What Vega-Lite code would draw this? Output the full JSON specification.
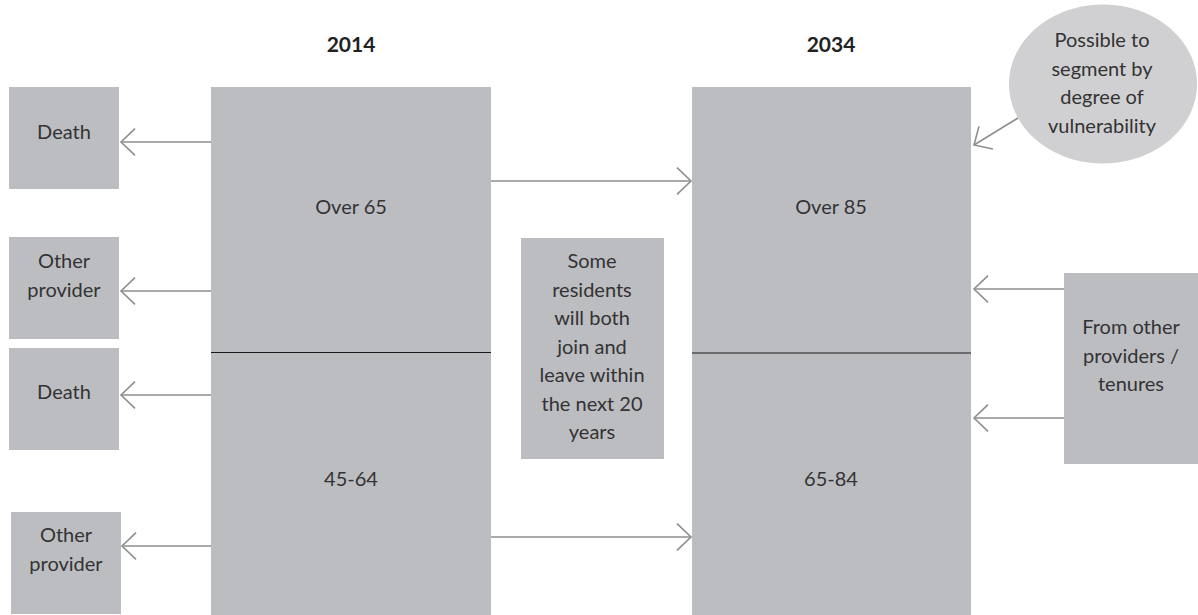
{
  "$schema": "https://vega.github.io/schema/vega-lite/v6.json",
  "width": 1198,
  "height": 615,
  "padding": 0,
  "autosize": {"type": "fit", "contains": "padding"},
  "background": "white",
  "view": {"stroke": null},
  "config": {"text": {"font": "Lato", "fontSize": 20, "color": "#333333", "lineBreak": "\n", "lineHeight": 28.5}},
  "datasets": {
    "boxes": [
      {"name": "Death 1", "x": 9, "x2": 119, "y": 87, "y2": 189},
      {"name": "Other provider 1", "x": 9, "x2": 119, "y": 237, "y2": 339},
      {"name": "Death 2", "x": 9, "x2": 119, "y": 348, "y2": 450},
      {"name": "Other provider 2", "x": 11, "x2": 121, "y": 512, "y2": 614},
      {"name": "2014", "x": 211, "x2": 491, "y": 87, "y2": 615},
      {"name": "2034", "x": 692, "x2": 971, "y": 87, "y2": 615},
      {"name": "Middle", "x": 521, "x2": 664, "y": 238, "y2": 459},
      {"name": "From other", "x": 1064, "x2": 1198, "y": 273, "y2": 464}
    ],
    "dividers": [
      {"x": 211, "x2": 491, "y": 352.5, "y2": 352.5},
      {"x": 692, "x2": 971, "y": 353, "y2": 353}
    ],
    "bubble": [{"x": 1103, "y": 84}],
    "arrows": [
      {"x": 211, "y": 142, "x2": 121, "y2": 142},
      {"x": 211, "y": 291, "x2": 121, "y2": 291},
      {"x": 211, "y": 395, "x2": 121, "y2": 395},
      {"x": 211, "y": 546, "x2": 122, "y2": 546},
      {"x": 491, "y": 181, "x2": 691, "y2": 181},
      {"x": 491, "y": 537, "x2": 691, "y2": 537},
      {"x": 1064, "y": 289, "x2": 974, "y2": 289},
      {"x": 1064, "y": 418, "x2": 974, "y2": 418},
      {"x": 1018, "y": 118, "x2": 974, "y2": 145}
    ],
    "labels": [
      {"label": "Death", "x": 64, "y": 133},
      {"label": "Other\nprovider", "x": 64, "y": 262},
      {"label": "Death", "x": 64, "y": 393},
      {"label": "Other\nprovider", "x": 66, "y": 536},
      {"label": "Over 65", "x": 351, "y": 208},
      {"label": "45-64", "x": 351, "y": 480},
      {"label": "Over 85", "x": 831, "y": 208},
      {"label": "65-84", "x": 831, "y": 480},
      {"label": "Some\nresidents\nwill both\njoin and\nleave within\nthe next 20\nyears", "x": 592, "y": 262},
      {"label": "From other\nproviders /\ntenures", "x": 1131, "y": 328},
      {"label": "Possible to\nsegment by\ndegree of\nvulnerability", "x": 1102, "y": 41}
    ],
    "titles": [
      {"label": "2014", "x": 351, "y": 46},
      {"label": "2034", "x": 831, "y": 46}
    ]
  },
  "encoding": {
    "x": {"field": "x", "type": "quantitative", "scale": {"domain": [0, 1198], "nice": false, "zero": false}, "axis": null},
    "y": {"field": "y", "type": "quantitative", "scale": {"domain": [615, 0], "nice": false, "zero": false}, "axis": null}
  },
  "layer": [
    {
      "data": {"name": "boxes"},
      "mark": {"type": "rect", "color": "#bcbdc1"},
      "encoding": {"x2": {"field": "x2"}, "y2": {"field": "y2"}}
    },
    {
      "data": {"name": "dividers"},
      "mark": {"type": "rule", "color": "#1a1a1a", "strokeWidth": 1},
      "encoding": {"x2": {"field": "x2"}, "y2": {"field": "y2"}}
    },
    {
      "data": {"name": "bubble"},
      "mark": {"type": "point", "filled": true, "color": "#d0d0d2", "opacity": 1, "size": 35344, "shape": "M -1 0 A 1 0.845 0 1 1 1 0 A 1 0.845 0 1 1 -1 0 Z"},
      "encoding": {}
    },
    {
      "data": {"name": "arrows"},
      "mark": {"type": "rule", "color": "#8e8e8e", "strokeWidth": 1.6},
      "encoding": {"x2": {"field": "x2"}, "y2": {"field": "y2"}}
    },
    {
      "data": {"name": "arrows"},
      "transform": [
        {"calculate": "(atan2(datum.y2 - datum.y, datum.x2 - datum.x) * 180 / PI + 180) % 360", "as": "ang"}
      ],
      "mark": {"type": "point", "filled": false, "color": "#8e8e8e", "strokeWidth": 1.6, "opacity": 1, "size": 784, "shape": "M 1 -0.95 L 0 0 L 1 0.95"},
      "encoding": {
        "x": {"field": "x2", "type": "quantitative"},
        "y": {"field": "y2", "type": "quantitative"},
        "angle": {"field": "ang", "type": "quantitative", "scale": null}
      }
    },
    {
      "data": {"name": "labels"},
      "mark": {"type": "text", "align": "center", "baseline": "middle"},
      "encoding": {"text": {"field": "label"}}
    },
    {
      "data": {"name": "titles"},
      "mark": {"type": "text", "align": "center", "baseline": "middle", "fontWeight": "bold", "fontSize": 21, "color": "#222222"},
      "encoding": {"text": {"field": "label"}}
    }
  ]
}
